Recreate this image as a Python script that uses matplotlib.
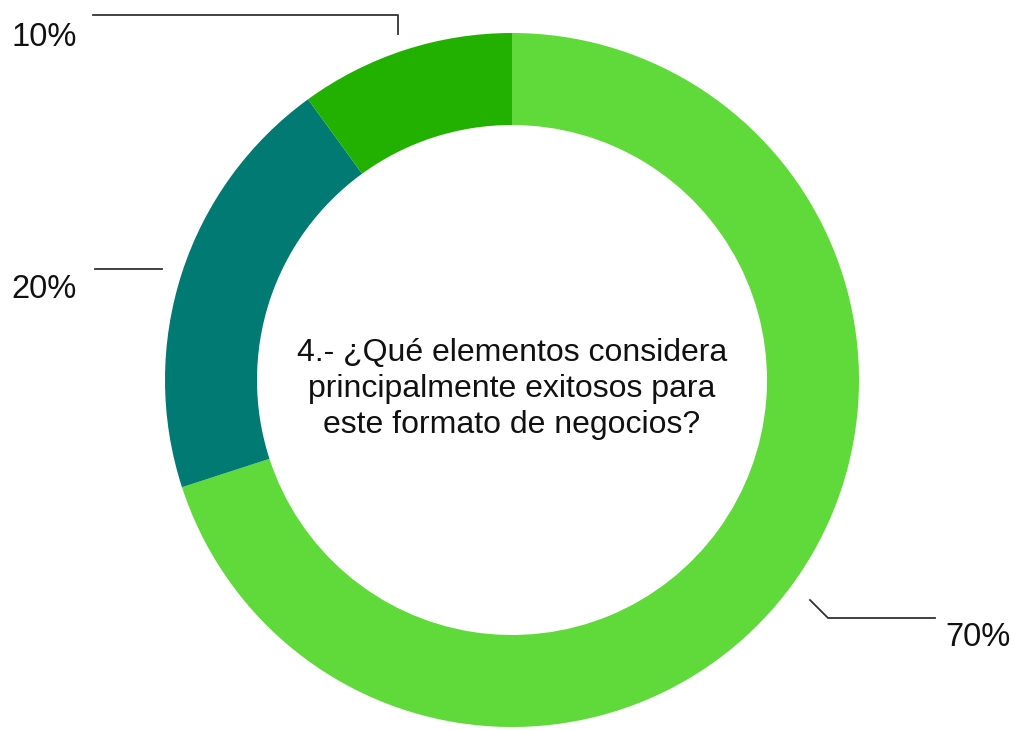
import matplotlib.pyplot as plt

# respuestas de la pregunta 4
valores = [70, 20, 10]
etiquetas = ["70%", "20%", "10%"]
colores = ["#60d93a", "#007a72", "#22b100"]
pregunta = "4.- ¿Qué elementos considera\nprincipalmente exitosos para\neste formato de negocios?"

plt.rcParams['font.family'] = ['Liberation Sans', 'DejaVu Sans']

W, H = 1014, 730
fig = plt.figure(figsize=(W / 100, H / 100), dpi=100)
ax = fig.add_axes([0, 0, 1, 1])

# coordenadas en pixeles, origen abajo a la izquierda
cx, cy, r = 512, H - 380, 347
ax.pie(valores, colors=colores, startangle=90, counterclock=False,
       center=(cx, cy), radius=r,
       wedgeprops=dict(width=92, edgecolor="none"))
ax.set_xlim(0, W)
ax.set_ylim(0, H)
ax.set_aspect("equal")
ax.axis("off")

ax.text(cx, H - 389, pregunta, ha="center", va="center",
        fontsize=23, linespacing=1.24, color="#111111")

# lineas guia hacia cada porcentaje
gris = "#333333"
ax.plot([398, 398, 93], [H - 34, H - 15, H - 15], color=gris, lw=1.3)
ax.plot([162, 95], [H - 269, H - 269], color=gris, lw=1.3)
ax.plot([810, 828, 935], [H - 600, H - 618, H - 618], color=gris, lw=1.3)

ax.text(44, H - 37, etiquetas[2], ha="center", va="center", fontsize=23.5, color="#111111")
ax.text(44, H - 290, etiquetas[1], ha="center", va="center", fontsize=23.5, color="#111111")
ax.text(978, H - 638, etiquetas[0], ha="center", va="center", fontsize=23.5, color="#111111")

fig.savefig("out.png", dpi=100, facecolor="white")
